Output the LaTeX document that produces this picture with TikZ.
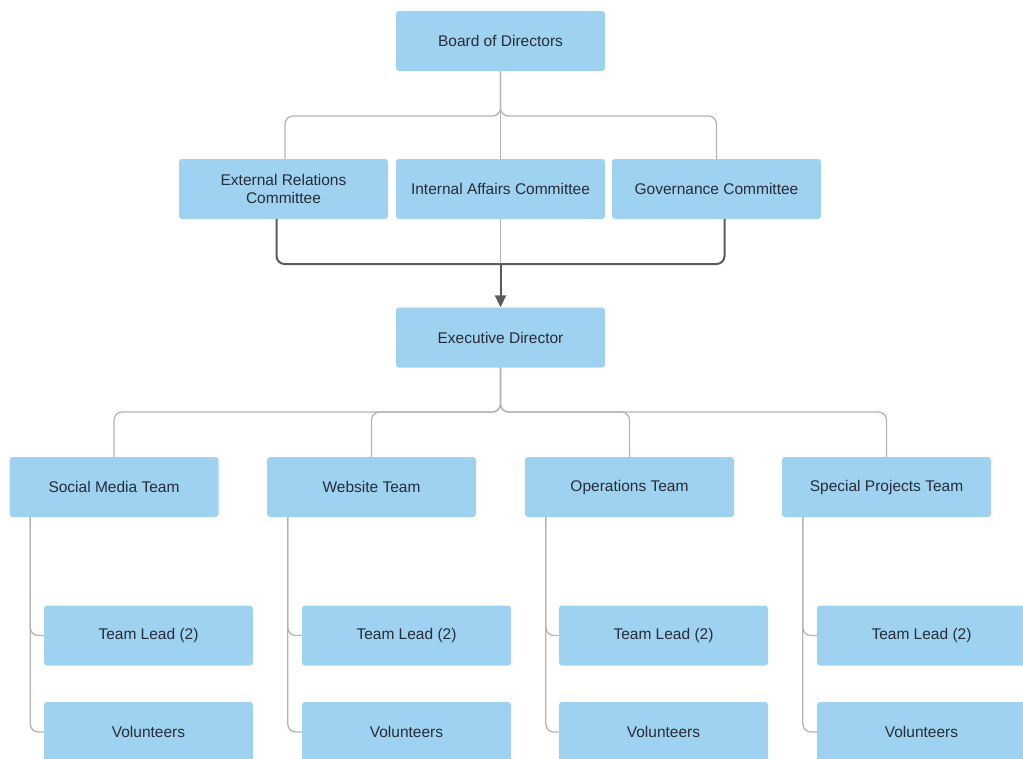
\documentclass[tikz,border=0pt]{standalone}
\usepackage{fontspec}
\setmainfont{Liberation Sans}
\usetikzlibrary{arrows.meta,calc}
\definecolor{boxfill}{HTML}{9FD2F0}
\definecolor{txt}{HTML}{262C38}
\definecolor{lightline}{HTML}{B4B4B4}
\definecolor{darkline}{HTML}{5A5A5A}
\tikzset{
  box/.style={rectangle, rounded corners=3pt, fill=boxfill, draw=none,
    minimum width=209pt, minimum height=60pt, inner sep=0pt,
    font=\fontsize{15.5}{18}\selectfont, text=txt, align=center},
  lconn/.style={draw=lightline, line width=1.3pt, rounded corners=8pt},
  dconn/.style={draw=darkline, line width=2pt, rounded corners=8pt},
}
\begin{document}
\begin{tikzpicture}[x=1pt,y=-1pt]
\useasboundingbox (0,0) rectangle (1023,758);
\clip (0,0) rectangle (1023,758);
% nodes
\node[box] (board) at (500.5,41) {Board of Directors};
\node[box] (ext) at (283.5,189) {External Relations\\Committee};
\node[box] (int) at (500.5,189) {Internal Affairs Committee};
\node[box] (gov) at (716.5,189) {Governance Committee};
\node[box] (ed) at (500.5,337.5) {Executive Director};
\node[box] (social) at (114,487) {Social Media Team};
\node[box] (web) at (371.5,487) {Website Team};
\node[box] (ops) at (629.5,487) {Operations Team};
\node[box] (spec) at (886.5,487) {Special Projects Team};
\node[box] (lead1) at (148.5,635.5) {Team Lead (2)};
\node[box] (lead2) at (406.5,635.5) {Team Lead (2)};
\node[box] (lead3) at (663.5,635.5) {Team Lead (2)};
\node[box] (lead4) at (921.5,635.5) {Team Lead (2)};
\node[box] (vol1) at (148.5,732) {Volunteers};
\node[box] (vol2) at (406.5,732) {Volunteers};
\node[box] (vol3) at (663.5,732) {Volunteers};
\node[box] (vol4) at (921.5,732) {Volunteers};
% board to committees
\coordinate (jb) at (500.5,116);
\draw[lconn] (board.south) |- ([xshift=1.5pt]ext.north |- jb) -- ([xshift=1.5pt]ext.north);
\draw[lconn] (board.south) |- (gov.north |- jb) -- (gov.north);
\draw[lconn] (board.south) -- (int.north);
% committees to executive director
\coordinate (jc) at (500.5,264);
\draw[lconn] (int.south) -- (jc);
\draw[dconn] ([xshift=-7pt]ext.south) |- (jc);
\draw[dconn] ([xshift=8pt]gov.south) |- (jc);
\draw[darkline, line width=2pt, -{Triangle[length=12pt,width=11pt]}] (jc) -- (ed.north);
% executive director to teams
\coordinate (je) at (500.5,412);
\draw[lconn] (ed.south) |- (social.north |- je) -- (social.north);
\draw[lconn] (ed.south) |- (web.north |- je) -- (web.north);
\draw[lconn] (ed.south) |- (ops.north |- je) -- (ops.north);
\draw[lconn] (ed.south) |- (spec.north |- je) -- (spec.north);
% teams to leads and volunteers
\foreach \t/\l/\v in {social/lead1/vol1, web/lead2/vol2, ops/lead3/vol3, spec/lead4/vol4}{
  \draw[lconn] ([xshift=21pt]\t.south west) |- (\l.west);
  \draw[lconn] ([xshift=21pt]\t.south west) |- (\v.west);
}
\end{tikzpicture}
\end{document}
